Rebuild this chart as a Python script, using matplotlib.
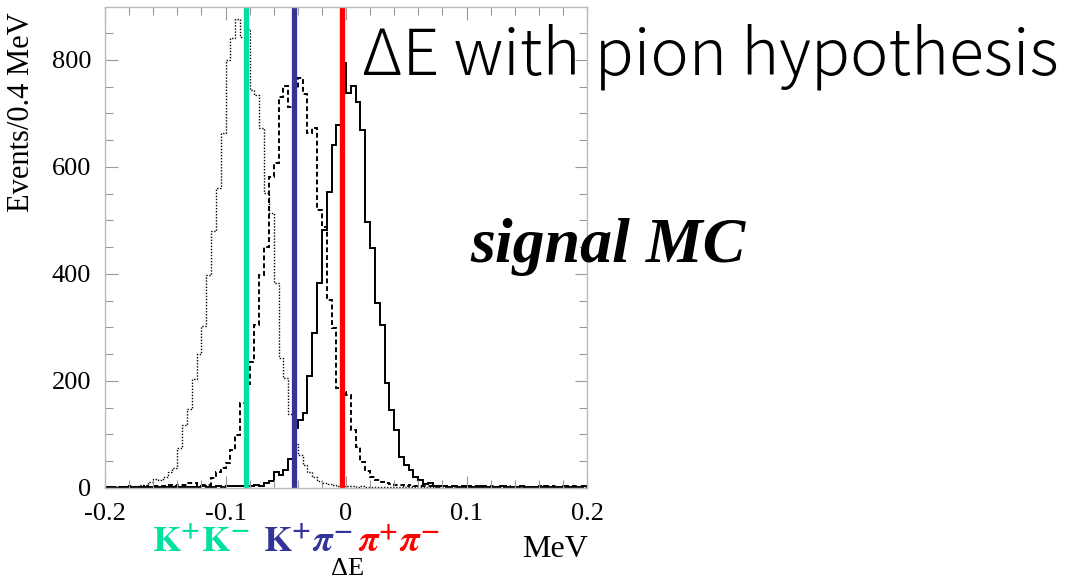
import matplotlib
matplotlib.use("Agg")
import matplotlib.pyplot as plt
import numpy as np

# 直方图数据：ΔE 从 -0.2 到 0.2，每个 bin 0.004
bin_start = -0.2
bin_width = 0.004

# K+K- (点线)
kk_counts = [2, 1, 2, 2, 3, 2, 4, 5, 6,
             12, 16, 15, 21, 30, 37,
             75, 117, 147, 204, 250, 303, 398, 480, 560, 663, 800, 841, 877, 842, 858,
             744, 735, 673, 551, 514, 383, 243, 205, 138, 82, 62, 43, 30, 20, 14,
             10, 7, 5, 4, 4, 3, 3, 2, 3, 2, 2, 1, 2, 1, 1,
             1, 2, 1, 1, 2, 1, 1, 1, 2, 1, 1, 2, 1, 1, 1, 2, 1, 1, 2, 1,
             1, 1, 2, 1, 1, 2, 1, 1, 1, 2, 1, 1, 2, 1, 1, 1, 2, 1, 1, 2]

# K+pi- (虚线)
kpi_counts = [1, 2, 1, 2, 1, 3, 2, 2, 3, 2, 4,
              3, 4, 5, 4, 6, 5,
              9, 9, 5, 6, 5,
              18, 30, 37, 46, 71, 99, 158, 195, 236, 305, 398, 451, 582, 607,
              730, 752, 712, 745, 766, 737, 663, 672, 520, 488, 351, 299, 187, 180, 174,
              108, 77, 49, 31, 20, 15, 11, 9, 7, 6, 5, 4, 5, 3, 4,
              3, 3, 2, 4, 3, 2, 3, 2, 3, 2, 2, 3, 2, 2, 3, 2, 2, 3, 2, 2,
              3, 2, 2, 2, 3, 2, 2, 3, 2, 2, 2, 3, 2, 4]

# pi+pi- (实线)
pipi_counts = [1, 1, 0, 1, 1, 1, 0, 1, 1, 2, 1, 1, 2, 1, 2, 1, 2, 2, 1, 2,
               3, 2, 2, 3, 2, 3, 3, 4,
               3, 4, 3, 5, 4, 9, 14, 29, 24, 34, 54,
               112, 127, 140, 210, 289, 383, 482, 554, 641, 679,
               794, 738, 751, 722, 670, 498, 448, 345, 305, 196,
               146, 108, 58, 43, 34, 20, 15, 7, 9, 4,
               3, 3, 2, 3, 2, 2, 3, 2, 2, 3, 2, 2, 2, 3, 2, 2, 2, 3, 2, 2,
               2, 2, 3, 2, 2, 2, 3, 2, 2, 2, 3]

# 三条竖线的位置和颜色
line_pos = [-0.083, -0.043, -0.0035]
line_colors = ["#00e0a0", "#333399", "#ff0000"]
line_labels = [r"$\mathbf{K^{+}K^{-}}$", r"$\mathbf{K^{+}}\mathbfit{\pi}^{\mathbf{-}}$",
               r"$\mathbfit{\pi}^{\mathbf{+}}\mathbfit{\pi}^{\mathbf{-}}$"]
label_x = [201, 308, 399]  # 标签中心的像素位置

plt.rcParams["mathtext.fontset"] = "stix"

fig = plt.figure(figsize=(10.72, 5.80), dpi=100)
ax = fig.add_axes([105 / 1072, 92 / 580, 482 / 1072, 481 / 580])

edges = bin_start + bin_width * np.arange(len(kk_counts) + 1)
ax.stairs(kk_counts, edges, color="black", lw=1.0, linestyle=(0, (1, 1.2)))
ax.stairs(kpi_counts, edges, color="black", lw=1.4, linestyle=(0, (2.5, 1.5)))
ax.stairs(pipi_counts, edges, color="black", lw=1.4)

for x, c in zip(line_pos, line_colors):
    ax.axvline(x, color=c, lw=3.8)

ax.set_xlim(-0.2, 0.2)
ax.set_ylim(0, 899)
ax.set_xticks([-0.2, -0.1, 0, 0.1, 0.2])
ax.set_xticklabels(["-0.2", "-0.1", "0", "0.1", "0.2"])
ax.set_xticks(np.arange(-0.2, 0.2001, 0.02), minor=True)
ax.set_yticks([0, 200, 400, 600, 800])
ax.set_yticks(np.arange(0, 900, 50), minor=True)

for s in ax.spines.values():
    s.set_color("#bbbbbb")
    s.set_linewidth(1.0)
ax.tick_params(which="both", direction="in", top=True, right=True, color="#999999")
ax.tick_params(which="major", length=9, width=0.8)
ax.tick_params(which="minor", length=6, width=0.8)
ax.tick_params(axis="y", which="major", pad=10)
ax.tick_params(axis="x", which="major", pad=11)
for lab in ax.get_xticklabels() + ax.get_yticklabels():
    lab.set_family("Liberation Serif")
    lab.set_fontsize(19)

# 文字
fig.text(22 / 1072, 1 - 112 / 580, "Events/0.4 MeV", family="Liberation Serif",
         fontsize=22, rotation=90, ha="center", va="center")
fig.text(362 / 1072, 1 - 75 / 580, "\u0394E with pion hypothesis",
         family=["Noto Sans CJK JP", "DejaVu Sans"], fontsize=46.5, weight="light",
         va="baseline")
fig.text(470 / 1072, 1 - 262 / 580, "signal MC", family="Liberation Serif",
         fontsize=46, style="italic", weight="bold", va="baseline")
fig.text(522 / 1072, 1 - 557 / 580, "MeV", family="Liberation Serif", fontsize=23,
         va="baseline")
fig.text(348 / 1072, 1 - 575 / 580, "\u0394E", family="Liberation Serif", fontsize=19,
         ha="center", va="baseline")
for x, c, t in zip(label_x, line_colors, line_labels):
    fig.text(x / 1072, 1 - 552 / 580, t, color=c, fontsize=26, ha="center",
             va="baseline")

plt.savefig("out.png", dpi=100)
